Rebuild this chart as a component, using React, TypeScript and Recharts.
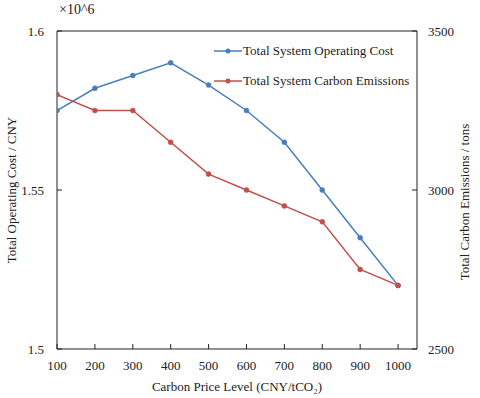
import React from 'react';
import { LineChart, Line, XAxis, YAxis, ReferenceLine, Label } from 'recharts';

document.body.style.margin = '0';

const FONT = '"Liberation Serif", "Times New Roman", serif';
const BLUE = '#4a7ebb';
const RED = '#c0504d';

const carbonPrices = [100, 200, 300, 400, 500, 600, 700, 800, 900, 1000];
// operating cost, in units of 10^6 CNY
const operatingCost = [1.575, 1.582, 1.586, 1.59, 1.583, 1.575, 1.565, 1.55, 1.535, 1.52];
// carbon emissions, tons
const carbonEmissions = [3300, 3250, 3250, 3150, 3050, 3000, 2950, 2900, 2750, 2700];

const priceTicks = [100, 200, 300, 400, 500, 600, 700, 800, 900, 1000];
const costTicks = [1.5, 1.55, 1.6];
const emissionTicks = [2500, 3000, 3500];

const seriesNames = ['Total System Operating Cost', 'Total System Carbon Emissions'];
const seriesColors = [BLUE, RED];

const data = carbonPrices.map((p, i) => ({
  price: p,
  cost: operatingCost[i],
  emissions: carbonEmissions[i],
}));

const tickStyle = { fontFamily: FONT, fontSize: 13, fill: '#222' };

function LegendBox() {
  return (
    <div
      style={{
        position: 'absolute',
        left: 214,
        top: 36,
        fontFamily: FONT,
        fontSize: 13,
        color: '#222',
        pointerEvents: 'none',
      }}
    >
      {seriesNames.map((name, i) => (
        <div key={name} style={{ display: 'flex', alignItems: 'center', height: 30, whiteSpace: 'nowrap' }}>
          <svg width={28} height={10} style={{ marginRight: 1 }}>
            <line x1={0} y1={5} x2={28} y2={5} stroke={seriesColors[i]} strokeWidth={1.5} />
            <circle cx={14} cy={5} r={2.5} fill={seriesColors[i]} />
          </svg>
          <span>{name}</span>
        </div>
      ))}
    </div>
  );
}

function sideTitle(text: string, dx: number, cy: number) {
  return ({ viewBox }: any) => {
    const x = viewBox.x + dx;
    return (
      <text
        x={x}
        y={cy}
        transform={`rotate(-90 ${x} ${cy})`}
        textAnchor="middle"
        dominantBaseline="middle"
        style={{ fontFamily: FONT, fontSize: 13, fill: '#222' }}
      >
        {text}
      </text>
    );
  };
}

export default function App() {
  return (
    <div style={{ position: 'relative', width: 480, height: 398, background: '#fff' }}>
      <div
        style={{
          position: 'absolute',
          left: 59,
          top: 2,
          fontFamily: FONT,
          fontSize: 14,
          color: '#222',
        }}
      >
        ×10^6
      </div>
      <LineChart width={480} height={398} data={data} margin={{ top: 31, right: 0, bottom: 19, left: 0 }}>
        <XAxis
          dataKey="price"
          type="number"
          domain={[100, 1050]}
          ticks={priceTicks}
          allowDataOverflow
          tickSize={-5}
          tickMargin={17}
          stroke="#222"
          tick={tickStyle}
        >
          <Label
            value="Carbon Price Level (CNY/tCO₂)"
            position="bottom"
            offset={3}
            style={{ fontFamily: FONT, fontSize: 13, fill: '#222' }}
          />
        </XAxis>
        <YAxis
          yAxisId="left"
          width={57}
          domain={[1.5, 1.6]}
          ticks={costTicks}
          allowDataOverflow
          tickSize={-5}
          tickMargin={18}
          stroke="#222"
          tick={tickStyle}
          tickFormatter={(v: number) => String(v)}
        >
          <Label content={sideTitle('Total Operating Cost / CNY', 13, 190)} />
        </YAxis>
        <YAxis
          yAxisId="right"
          orientation="right"
          width={63}
          domain={[2500, 3500]}
          ticks={emissionTicks}
          allowDataOverflow
          tickSize={-5}
          tickMargin={16}
          stroke="#222"
          tick={tickStyle}
        >
          <Label content={sideTitle('Total Carbon Emissions / tons', 49, 202)} />
        </YAxis>
        <ReferenceLine yAxisId="left" y={1.6} stroke="#222" />
        <Line
          yAxisId="left"
          dataKey="cost"
          name={seriesNames[0]}
          stroke={BLUE}
          strokeWidth={1.5}
          dot={{ r: 2.5, fill: BLUE, stroke: BLUE, strokeWidth: 0.5 }}
          isAnimationActive={false}
        />
        <Line
          yAxisId="right"
          dataKey="emissions"
          name={seriesNames[1]}
          stroke={RED}
          strokeWidth={1.5}
          dot={{ r: 2.5, fill: RED, stroke: RED, strokeWidth: 0.5 }}
          isAnimationActive={false}
        />
      </LineChart>
      <LegendBox />
    </div>
  );
}
